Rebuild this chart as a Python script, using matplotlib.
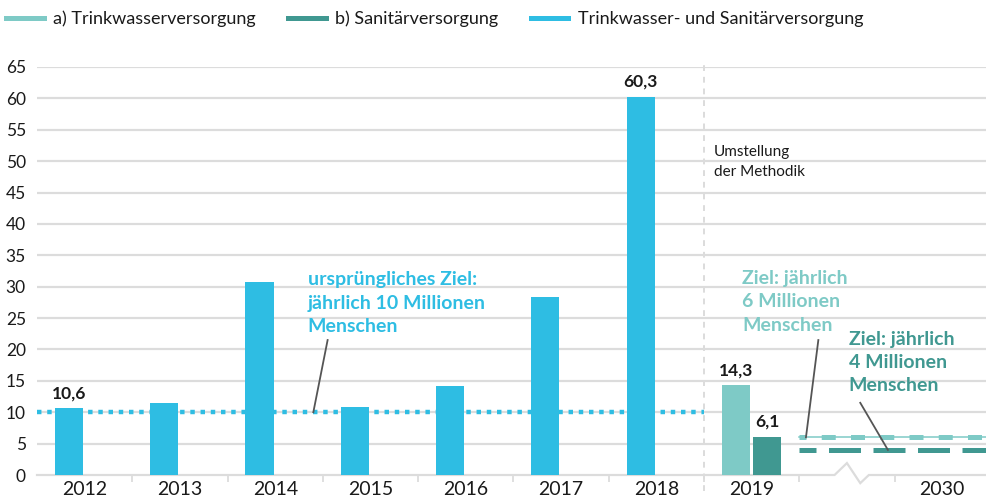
import matplotlib
matplotlib.use("Agg")
import matplotlib.pyplot as plt
from matplotlib.lines import Line2D

plt.rcParams["font.family"] = ["Lato", "DejaVu Sans"]

# data
years = ["2012", "2013", "2014", "2015", "2016", "2017", "2018"]
combined = [10.6, 11.5, 30.8, 10.9, 14.2, 28.4, 60.3]
year_2019 = "2019"
trink_2019 = 14.3
sanit_2019 = 6.1
target_year = "2030"
old_target = 10
target_trink = 6
target_sanit = 4
yticks = list(range(0, 70, 5))

BLUE = "#2ebde3"
LIGHT = "#7ecac6"
DARK = "#409891"
GRID = "#dcdcdc"
TXT = "#1a1a1a"
LEAD = "#555555"

W, H, DPI = 987, 499, 100
fig = plt.figure(figsize=(W / DPI, H / DPI), dpi=DPI)
# axes in pixel terms: x 37..987, y 67..475 (from top)
ax = fig.add_axes([37 / W, (H - 475) / H, (987 - 37) / W, (475 - 67) / H])

bw, off = 0.295, 0.165
xs = list(range(len(years)))
x19 = len(years)
x30 = x19 + 2

ax.bar([x - off for x in xs], combined, width=bw, color=BLUE, zorder=3)
ax.bar(x19 - off, trink_2019, width=bw, color=LIGHT, zorder=3)
ax.bar(x19 + off, sanit_2019, width=bw, color=DARK, zorder=3)

ax.set_xlim(-0.5, 9.47)
ax.set_ylim(0, 65)

# grid (0 line drawn separately with axis break)
for v in yticks[1:]:
    ax.axhline(v, color=GRID, lw=1.6, zorder=0)
ax.plot([-0.5, 7.87, 8.0, 8.14, 8.23, 9.47], [0, 0, 1.9, -1.3, 0, 0],
        color=GRID, lw=1.6, zorder=1, clip_on=False, solid_joinstyle="miter")

ax.set_yticks(yticks)
ax.tick_params(axis="y", length=0, labelsize=12.5, labelcolor=TXT, pad=8)

# x: separators as major ticks, labels as minor
ax.set_xticks([i + 0.5 for i in range(len(years))] + [x19 + 0.5, x19 + 1.5])
ax.set_xticklabels([])
ax.set_xticks(xs + [x19, x30], minor=True)
ax.set_xticklabels(years + [year_2019, target_year], minor=True)
ax.tick_params(axis="x", which="major", length=5, width=1.3, color=GRID)
ax.tick_params(axis="x", which="minor", length=0, labelsize=14, labelcolor=TXT, pad=4)

for s in ax.spines.values():
    s.set_visible(False)

# method change separator
ax.plot([6.5, 6.5], [-2.5, 65.5], color=GRID, lw=1.4, ls=(0, (3, 3)), clip_on=False, zorder=1)
ax.text(6.6, 49.9, "Umstellung\nder Methodik", fontsize=11, color=TXT,
        va="center", ha="left", linespacing=1.55)

# original target, dotted
ax.plot([-0.5, 6.5], [old_target, old_target], color=BLUE, lw=3.2,
        ls=(0, (1.0, 1.3)), zorder=4)

# new targets
ax.plot([7.5, 9.47], [target_trink, target_trink], color=LIGHT, lw=1.1, zorder=4)
ax.plot([7.5, 9.47], [target_trink, target_trink], color=LIGHT, lw=3.6,
        ls=(1.4, (2.8, 3.05)), zorder=4)
ax.plot([7.5, 9.47], [target_sanit, target_sanit], color=DARK, lw=3.6,
        ls=(3.0, (6.4, 2.5)), zorder=4)

# value labels
def vlabel(x, v):
    ax.annotate(f"{v:.1f}".replace(".", ","), (x, v), xytext=(0, 5),
                textcoords="offset points", ha="center", va="bottom",
                fontsize=12.5, fontweight="bold", color=TXT)

vlabel(0 - off, combined[0])
vlabel(6 - off, combined[6])
vlabel(x19 - off, trink_2019)
vlabel(x19 + off, sanit_2019)

# annotations
ax.text(2.34, 27.4, "ursprüngliches Ziel:\njährlich 10 Millionen\nMenschen",
        color=BLUE, fontsize=14, fontweight="bold", ha="left", va="center", linespacing=1.45)
ax.plot([2.55, 2.40], [21.5, old_target], color=LEAD, lw=1.3, zorder=5)

ax.text(6.90, 27.6, "Ziel: jährlich\n6 Millionen\nMenschen",
        color=LIGHT, fontsize=14, fontweight="bold", ha="left", va="center", linespacing=1.45)
ax.plot([7.70, 7.57], [21.5, target_trink], color=LEAD, lw=1.3, zorder=5)

ax.text(8.02, 17.9, "Ziel: jährlich\n4 Millionen\nMenschen",
        color=DARK, fontsize=14, fontweight="bold", ha="left", va="center", linespacing=1.45)
ax.plot([8.14, 8.43], [11.5, target_sanit], color=LEAD, lw=1.3, zorder=5)

# legend
handles = [Line2D([], [], color=LIGHT, lw=3.6),
           Line2D([], [], color=DARK, lw=3.6),
           Line2D([], [], color=BLUE, lw=3.6)]
labels = ["a) Trinkwasserversorgung", "b) Sanitärversorgung",
          "Trinkwasser- und Sanitärversorgung"]
fig.legend(handles, labels, loc="center left", bbox_to_anchor=(0.006, 1 - 19 / H),
           ncol=3, frameon=False, borderpad=0, borderaxespad=0, fontsize=13,
           handlelength=2.1, handletextpad=0.5, columnspacing=1.8, labelcolor=TXT)

fig.savefig("out.png", dpi=DPI)
